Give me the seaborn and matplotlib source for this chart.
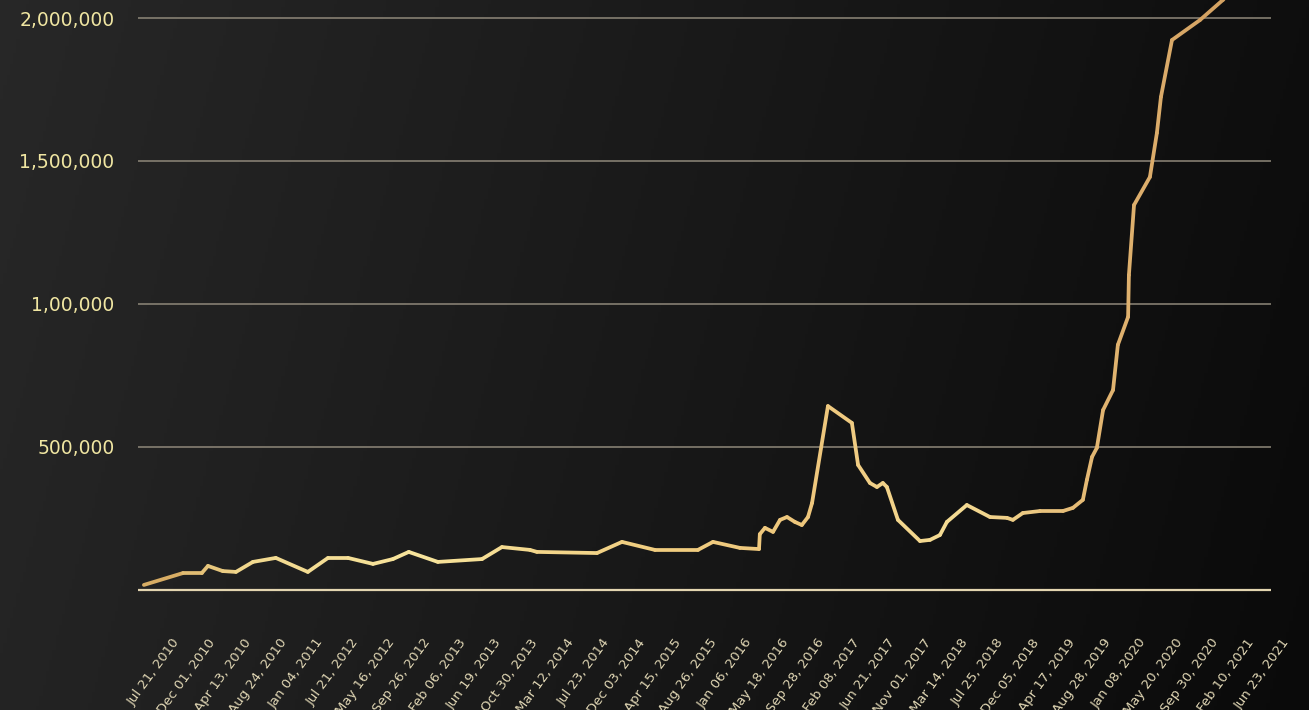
import numpy as np
import pandas as pd
import matplotlib
matplotlib.use("Agg")
import matplotlib.pyplot as plt
import seaborn as sns
from matplotlib.collections import LineCollection
from matplotlib.colors import LinearSegmentedColormap

# days counted from the first labelled tick
days = [-104, 41, 111, 134, 189, 238, 301, 386, 505, 580, 654, 747, 821, 880,
        988, 1152, 1226, 1330, 1356, 1579, 1672, 1794, 1954, 2010, 2110, 2181,
        2184, 2203, 2233, 2259, 2285, 2314, 2340, 2363, 2378, 2437, 2526, 2549,
        2593, 2619, 2641, 2656, 2697, 2779, 2816, 2853, 2879, 2953, 3039, 3102,
        3124, 3161, 3225, 3310, 3347, 3384, 3399, 3418, 3436, 3459, 3496, 3514,
        3552, 3555, 3574, 3633, 3659, 3674, 3715, 3819, 3904, 3986]
values = [17500, 59000, 59000, 84000, 66000, 63000, 98000, 112000, 63000,
          112000, 112000, 91000, 108000, 133000, 98000, 108000, 150000, 140000,
          133000, 129000, 168000, 140000, 140000, 168000, 147000, 143000,
          195000, 217000, 203000, 245000, 255000, 238000, 227000, 255000,
          304000, 643000, 584000, 437000, 374000, 360000, 374000, 360000,
          245000, 171000, 175000, 192000, 238000, 297000, 255000, 252000,
          245000, 269000, 276000, 276000, 287000, 315000, 385000, 465000,
          497000, 629000, 699000, 857000, 955000, 1101000, 1346000, 1444000,
          1598000, 1724000, 1923000, 1993000, 2063000, 2140000]

tick_labels = ["Jul 21, 2010", "Dec 01, 2010", "Apr 13, 2010", "Aug 24, 2010",
               "Jan 04, 2011", "Jul 21, 2012", "May 16, 2012", "Sep 26, 2012",
               "Feb 06, 2013", "Jun 19, 2013", "Oct 30, 2013", "Mar 12, 2014",
               "Jul 23, 2014", "Dec 03, 2014", "Apr 15, 2015", "Aug 26, 2015",
               "Jan 06, 2016", "May 18, 2016", "Sep 28, 2016", "Feb 08, 2017",
               "Jun 21, 2017", "Nov 01, 2017", "Mar 14, 2018", "Jul 25, 2018",
               "Dec 05, 2018", "Apr 17, 2019", "Aug 28, 2019", "Jan 08, 2020",
               "May 20, 2020", "Sep 30, 2020", "Feb 10, 2021", "Jun 23, 2021"]
tick_step = 133

y_ticks = [500000, 1000000, 1500000, 2000000]
y_labels = ["500,000", "1,00,000", "1,500,000", "2,000,000"]

sns.set_theme(style="white")
plt.rcParams["font.family"] = ["DejaVu Sans"]

fig = plt.figure(figsize=(13.09, 7.10), dpi=100)

# dark gradient background
bg = fig.add_axes([0, 0, 1, 1], zorder=-10)
gx = np.linspace(0, 1, 400)
gy = np.linspace(0, 1, 200)
GX, GY = np.meshgrid(gx, gy)
shade = 0.155 - 0.10 * GX - 0.015 * GY
bg.imshow(np.dstack([shade, shade, shade]), aspect="auto", extent=[0, 1, 0, 1],
          origin="upper")
bg.axis("off")

ax = fig.add_axes([0.1054, 0.155, 0.880, 0.845])
ax.patch.set_alpha(0)

df = pd.DataFrame({"day": days, "value": values})
sns.lineplot(data=df, x="day", y="value", ax=ax, lw=0, legend=False)

x_left, x_grid_end, x_right = -126, 4083, 4153
ax.set_xlim(x_left, x_right)
ax.set_ylim(-35000, 2063000)

# gridlines
ax.hlines(y_ticks, x_left, x_grid_end, color="#8f887a", lw=1.1, zorder=1)
ax.hlines([0], x_left, x_grid_end, color="#e3d5b0", lw=1.6, zorder=1)

# gold gradient line
gold = LinearSegmentedColormap.from_list(
    "gold", [(0.0, "#d2a25a"), (0.1, "#f2d98f"), (0.25, "#f7e49c"),
             (0.45, "#f0cd80"), (0.6, "#eec67c"), (0.72, "#f5dd95"),
             (0.85, "#e2b571"), (1.0, "#cf9a5c")])
pts = np.column_stack([df["day"], df["value"]])
segs = np.stack([pts[:-1], pts[1:]], axis=1)
mids = (pts[:-1, 0] + pts[1:, 0]) / 2
norm = (mids - x_left) / (x_grid_end - x_left)
lc = LineCollection(segs, colors=gold(norm), linewidths=2.7,
                    capstyle="round", joinstyle="round", zorder=3)
ax.add_collection(lc)

ax.set_xticks([i * tick_step for i in range(len(tick_labels))])
ax.set_xticklabels(tick_labels, rotation=54, ha="right", va="top",
                   rotation_mode="anchor", color="#e0d6b4", fontsize=9.5)
ax.set_yticks(y_ticks)
ax.set_yticklabels(y_labels, color="#f0e6a2", fontsize=13.5)
ax.tick_params(axis="x", length=0, pad=26)
ax.tick_params(axis="y", length=0, pad=17)
ax.set_xlabel("")
ax.set_ylabel("")
ax.grid(False)
for s in ax.spines.values():
    s.set_visible(False)

fig.savefig("out.png", dpi=100)
